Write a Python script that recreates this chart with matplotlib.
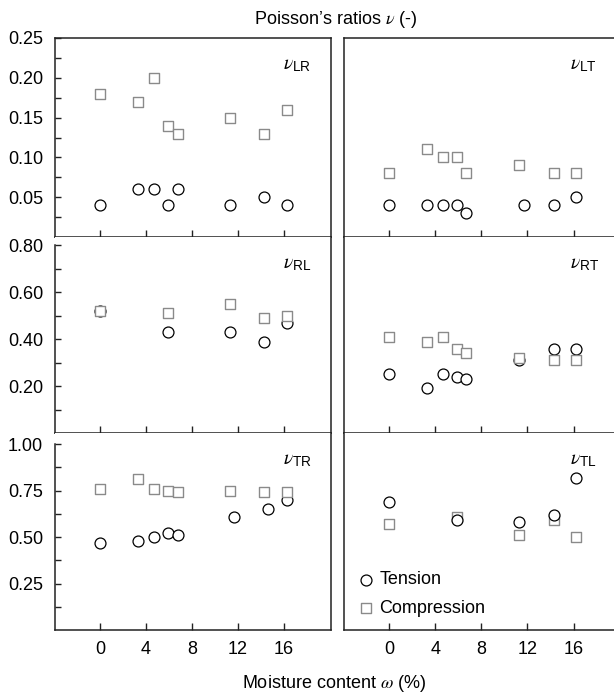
import numpy as np
import matplotlib

matplotlib.use("Agg")
import matplotlib.pyplot as plt

plt.rcParams["font.family"] = ["Liberation Sans", "DejaVu Sans"]
plt.rcParams["mathtext.fontset"] = "custom"
plt.rcParams["mathtext.it"] = "STIXGeneral:italic"
plt.rcParams["mathtext.rm"] = "Liberation Sans"
plt.rcParams["mathtext.sf"] = "Liberation Sans"

# --- data (moisture content %, Poisson's ratio) ---
x8 = [0.0, 3.3, 4.7, 5.9, 6.8, 11.3, 14.3, 16.3]
x5 = [0.0, 5.9, 11.3, 14.3, 16.3]

lr_x_t = x8
lr_t = [0.04, 0.06, 0.06, 0.04, 0.06, 0.04, 0.05, 0.04]
lr_x_c = x8
lr_c = [0.18, 0.17, 0.20, 0.14, 0.13, 0.15, 0.13, 0.16]

lt_x_t = [0.0, 3.3, 4.7, 5.9, 6.7, 11.7, 14.3, 16.2]
lt_t = [0.04, 0.04, 0.04, 0.04, 0.03, 0.04, 0.04, 0.05]
lt_x_c = [0.0, 3.3, 4.7, 5.9, 6.7, 11.3, 14.3, 16.2]
lt_c = [0.08, 0.11, 0.10, 0.10, 0.08, 0.09, 0.08, 0.08]

rl_x_t = x5
rl_t = [0.52, 0.43, 0.43, 0.39, 0.47]
rl_x_c = x5
rl_c = [0.52, 0.51, 0.55, 0.49, 0.50]

rt_x_t = [0.0, 3.3, 4.7, 5.9, 6.7, 11.3, 14.3, 16.2]
rt_t = [0.25, 0.19, 0.25, 0.24, 0.23, 0.31, 0.36, 0.36]
rt_x_c = rt_x_t
rt_c = [0.41, 0.39, 0.41, 0.36, 0.34, 0.32, 0.31, 0.31]

tr_x_t = [0.0, 3.3, 4.7, 5.9, 6.8, 11.7, 14.6, 16.3]
tr_t = [0.47, 0.48, 0.50, 0.52, 0.51, 0.61, 0.65, 0.70]
tr_x_c = x8
tr_c = [0.76, 0.81, 0.76, 0.75, 0.74, 0.75, 0.74, 0.74]

tl_x_t = [0.0, 5.9, 11.3, 14.3, 16.2]
tl_t = [0.69, 0.59, 0.58, 0.62, 0.82]
tl_x_c = tl_x_t
tl_c = [0.57, 0.61, 0.51, 0.59, 0.50]

xticks = [0, 4, 8, 12, 16]
row_yticks = [[0.05, 0.10, 0.15, 0.20, 0.25],
              [0.20, 0.40, 0.60, 0.80],
              [0.25, 0.50, 0.75, 1.00]]
row_ylabels = [["0.05", "0.10", "0.15", "0.20", "0.25"],
               ["0.20", "0.40", "0.60", "0.80"],
               ["0.25", "0.50", "0.75", "1.00"]]
row_ylim = [(0, 0.25), (0, 0.836), (0, 1.06)]
row_ytop = [0.25, 0.80, 1.00]

panels = [
    # row, col, name, tension x/y, compression x/y, tension on top
    (0, 0, "LR", lr_x_t, lr_t, lr_x_c, lr_c, False),
    (0, 1, "LT", lt_x_t, lt_t, lt_x_c, lt_c, False),
    (1, 0, "RL", rl_x_t, rl_t, rl_x_c, rl_c, False),
    (1, 1, "RT", rt_x_t, rt_t, rt_x_c, rt_c, False),
    (2, 0, "TR", tr_x_t, tr_t, tr_x_c, tr_c, False),
    (2, 1, "TL", tl_x_t, tl_t, tl_x_c, tl_c, True),
]

W, H = 614, 694
fig = plt.figure(figsize=(W / 100, H / 100), dpi=100)

col_px = [(55, 331), (344, 614)]
row_px = [(38, 237), (237, 433), (433, 630)]
spine_col = "#222222"
fs = 13

for row, col, name, xt, yt, xc, yc, t_top in panels:
    x0, x1 = col_px[col]
    y0, y1 = row_px[row]
    ax = fig.add_axes([x0 / W, 1 - y1 / H, (x1 - x0) / W, (y1 - y0) / H])
    ax.set_xlim(-3.9, 20.1 if col == 0 else 19.5)
    ax.set_ylim(*row_ylim[row])

    for s in ax.spines.values():
        s.set_linewidth(1.1)
        s.set_color(spine_col)
    if row > 0:
        ax.spines["top"].set_visible(False)
    if col == 1:
        ax.spines["right"].set_visible(False)
    if col == 0 and row > 0:
        ax.spines["left"].set_bounds(0, row_ytop[row])

    ax.scatter(xt, yt, marker="o", s=62, facecolors="white", edgecolors="black",
               linewidths=0.9, zorder=4 if t_top else 3, label="Tension")
    ax.scatter(xc, yc, marker="s", s=50, facecolors="white", edgecolors="#8a8a8a",
               linewidths=1.0, zorder=3 if t_top else 4, label="Compression")

    ax.set_xticks(xticks)
    ax.tick_params(axis="x", direction="in", length=5, width=1, color=spine_col,
                   labelsize=fs, pad=8, labelbottom=(row == 2))
    if col == 0:
        yt_major = row_yticks[row]
        ax.set_yticks(yt_major)
        ax.set_yticklabels(row_ylabels[row])
        step = yt_major[1] - yt_major[0]
        minors = [v - step / 2 for v in yt_major]
        ax.set_yticks(minors, minor=True)
        ax.tick_params(axis="y", which="both", direction="in", length=4, width=1,
                       color=spine_col, labelsize=fs, pad=8.5)
    else:
        ax.set_yticks([])

    ax.text(0.825 if col == 0 else 0.837, 0.86, r"$\nu_{\mathrm{%s}}$" % name,
            transform=ax.transAxes, fontsize=14, ha="left", va="center")

    if name == "TL":
        ax.legend(loc="lower left", frameon=False, fontsize=fs, handletextpad=0.15,
                  borderaxespad=0.2, labelspacing=0.65, handlelength=1.2,
                  bbox_to_anchor=(0.0, 0.01))

fig.text(336 / W, 1 - 20 / H, "Poisson\u2019s ratios $\\nu$ (-)", ha="center", va="center",
         fontsize=fs)
fig.text(334 / W, 1 - 683 / H, "Moisture content $\\omega$ (%)", ha="center", va="center",
         fontsize=fs)

fig.savefig("out.png", dpi=100)
